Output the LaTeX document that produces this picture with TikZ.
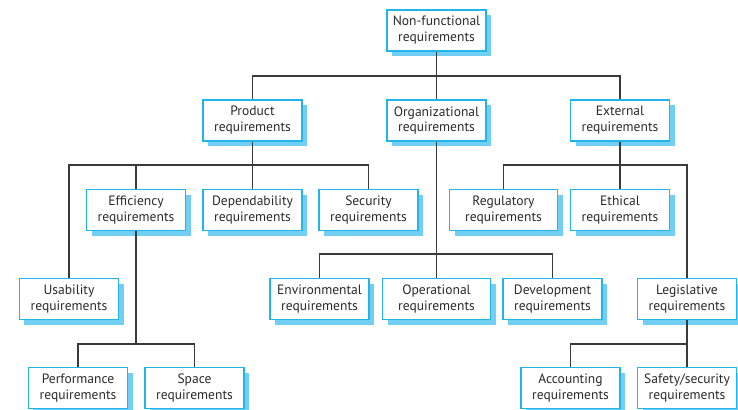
\documentclass[tikz,border=0pt]{standalone}
\usepackage{fontspec}
\setmainfont{PT Sans}
\usetikzlibrary{shadows}
\definecolor{reqline}{HTML}{22B5EA}
\definecolor{reqshadow}{HTML}{72CFF4}
\definecolor{reqtext}{HTML}{2A2A2A}
\definecolor{treeline}{HTML}{3A3A3A}

\begin{document}
\begin{tikzpicture}[x=1bp,y=-1bp,
	req/.style={draw=reqline,line width=1.5bp,fill=white,text=reqtext,align=center,
		minimum width=99bp,minimum height=41bp,inner sep=0pt,
		font=\fontsize{13.6}{16}\selectfont,
		drop shadow={shadow xshift=5bp,shadow yshift=-5bp,fill=reqshadow,opacity=1}},
	wide/.style={minimum width=108bp},
	tree/.style={treeline,line width=1.2bp}]
	\useasboundingbox (0,0) rectangle (738,409);
	
	%TOP LEVEL
	\node[req] (nf) at (436.5,30.5) {Non-functional\\requirements};
	\node[req] (prod) at (252.5,120.5) {Product\\requirements};
	\node[req] (org) at (436.5,120.5) {Organizational\\requirements};
	\node[req] (ext) at (620,120.5) {External\\requirements};
	
	%SECOND ROW
	\node[req] (eff) at (136,210) {Efficiency\\requirements};
	\node[req] (dep) at (252.5,210) {Dependability\\requirements};
	\node[req] (sec) at (368.5,210) {Security\\requirements};
	\node[req,wide] (reg) at (503.5,210) {Regulatory\\requirements};
	\node[req] (eth) at (620,210) {Ethical\\requirements};
	
	%THIRD ROW
	\node[req] (usa) at (69,299) {Usability\\requirements};
	\node[req] (env) at (319.5,299) {Environmental\\requirements};
	\node[req,wide] (ope) at (436.5,299) {Operational\\requirements};
	\node[req] (dev) at (552.5,299) {Development\\requirements};
	\node[req] (leg) at (687,299) {Legislative\\requirements};
	
	%BOTTOM ROW
	\node[req] (perf) at (78,388) {Performance\\requirements};
	\node[req] (spa) at (194.5,388) {Space\\requirements};
	\node[req] (acc) at (570.5,388) {Accounting\\requirements};
	\node[req] (saf) at (687,388) {Safety/security\\requirements};
	
	%BRANCH POINTS
	\coordinate (barT) at (436.5,76);
	\coordinate (barP) at (252.5,165);
	\coordinate (barE) at (620,165);
	\coordinate (barO) at (436.5,254);
	\coordinate (barF) at (136,344);
	\coordinate (barL) at (687,344);
	
	%CONNECTORS
	\draw[tree] (nf.south) -- (org.north);
	\draw[tree] (prod.north) |- (barT) -| (ext.north);
	
	\draw[tree] (prod.south) -- (dep.north);
	\draw[tree] (usa.north) |- (barP) -| (sec.north);
	\draw[tree] (eff.north) -- (eff.north |- barP);
	
	\draw[tree] (ext.south) -- (eth.north);
	\draw[tree] (reg.north) |- (barE) -| (leg.north);
	
	\draw[tree] (org.south) -- (ope.north);
	\draw[tree] (env.north) |- (barO) -| (dev.north);
	
	\draw[tree] (eff.south) -- (barF);
	\draw[tree] (perf.north) |- (barF) -| (spa.north);
	
	\draw[tree] (leg.south) -- (saf.north);
	\draw[tree] (acc.north) |- (barL);
\end{tikzpicture}
\end{document}
